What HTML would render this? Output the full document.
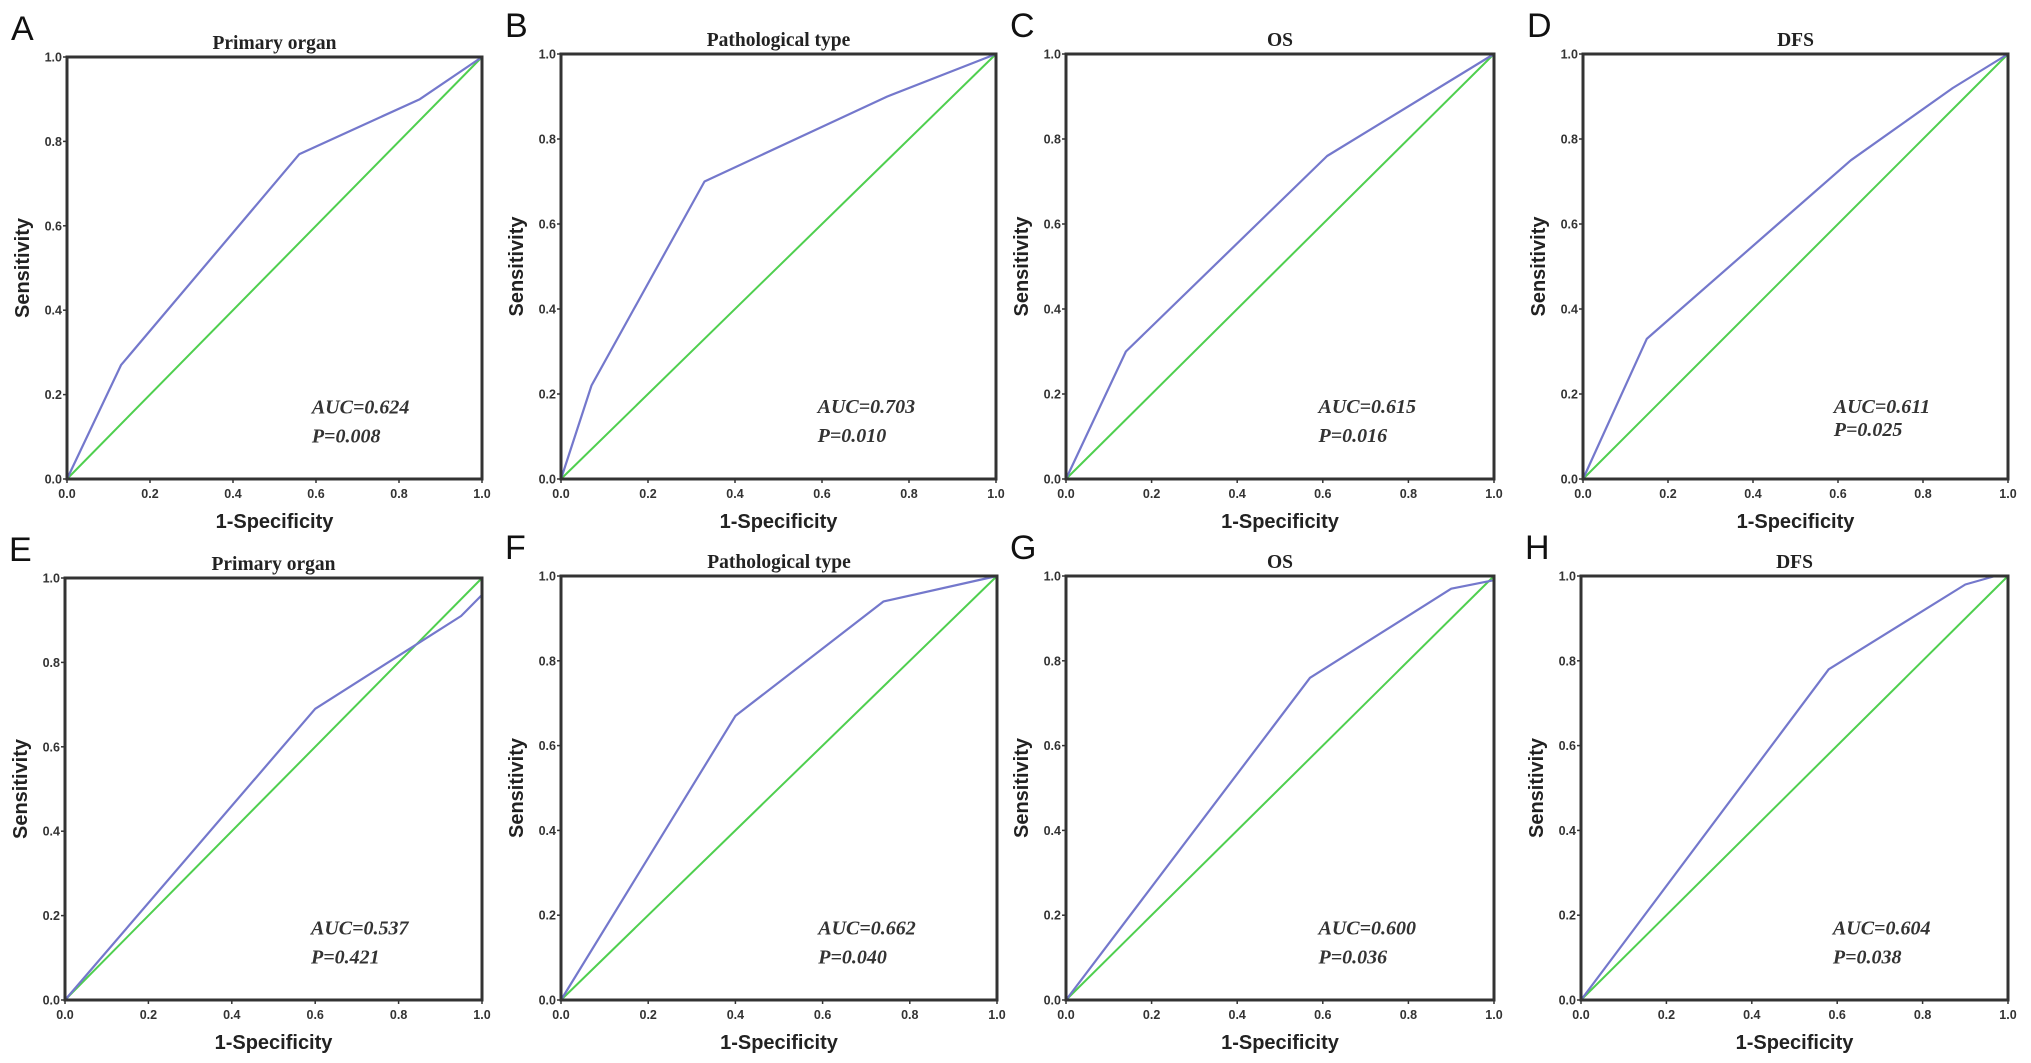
<!DOCTYPE html>
<html><head><meta charset="utf-8"><style>
html,body{margin:0;padding:0;background:#fff;}
svg{display:block;}
</style></head><body>
<svg id="fig" width="2031" height="1063" viewBox="0 0 2031 1063" xmlns="http://www.w3.org/2000/svg"></svg>
<script>
// Panel data (ROC curve points: false positive rate, sensitivity)
const panelLetters = ["A","B","C","D","E","F","G","H"];
const panelTitles = ["Primary organ","Pathological type","OS","DFS","Primary organ","Pathological type","OS","DFS"];
const aucValues = ["0.624","0.703","0.615","0.611","0.537","0.662","0.600","0.604"];
const pValues = ["0.008","0.010","0.016","0.025","0.421","0.040","0.036","0.038"];
const fprA = [0,0.13,0.56,0.85,1]; const tprA = [0,0.27,0.77,0.90,1];
const fprB = [0,0.07,0.33,0.75,1]; const tprB = [0,0.22,0.70,0.90,1];
const fprC = [0,0.14,0.61,1];      const tprC = [0,0.30,0.76,1];
const fprD = [0,0.15,0.63,0.87,1]; const tprD = [0,0.33,0.75,0.92,1];
const fprE = [0,0.60,0.95,1];      const tprE = [0,0.69,0.91,0.96];
const fprF = [0,0.40,0.74,1];      const tprF = [0,0.67,0.94,1];
const fprG = [0,0.57,0.90,1];      const tprG = [0,0.76,0.97,0.99];
const fprH = [0,0.58,0.90,0.97,1]; const tprH = [0,0.78,0.98,1,1];
const tickValues = [0,0.2,0.4,0.6,0.8,1.0];
const tickLabels = ["0.0","0.2","0.4","0.6","0.8","1.0"];

const fprs=[fprA,fprB,fprC,fprD,fprE,fprF,fprG,fprH];
const tprs=[tprA,tprB,tprC,tprD,tprE,tprF,tprG,tprH];
const boxes=[[67,57,482,479],[561,54,996,479],[1066,54,1494,479],[1583,54,2008,479],
             [65,578,482,1000],[561,576,997,1000],[1066,576,1494,1000],[1581,576,2008,1000]];
const NS="http://www.w3.org/2000/svg";
const svg=document.getElementById('fig');
function mk(tag,attrs,parent){const e=document.createElementNS(NS,tag);for(const k in attrs)e.setAttribute(k,attrs[k]);(parent||svg).appendChild(e);return e;}

for(let i=0;i<8;i++){
  const [l,t,r,b]=boxes[i];
  const xs=v=>l+v*(r-l), ys=v=>b-v*(b-t);
  const g=mk('g',{});
  
  
  let e=mk('text',{x:l-56,y:t-17,'font-family':'Liberation Sans, sans-serif','font-size':34,fill:'#111'},g);
  e.textContent=panelLetters[i];
  
  
  e=mk('text',{x:(l+r)/2,y:t-8,'text-anchor':'middle','font-family':'Liberation Serif, serif','font-weight':'bold','font-size':19.5,fill:'#222'},g);
  e.textContent=panelTitles[i];
  
  
  e=mk('line',{x1:xs(0),y1:ys(0),x2:xs(1),y2:ys(1),stroke:'#4fcf4f','stroke-width':2},g);
  
  
  const pts=fprs[i].map((v,k)=>xs(v).toFixed(1)+','+ys(tprs[i][k]).toFixed(1)).join(' ');
  e=mk('polyline',{points:pts,fill:'none',stroke:'#7478cc','stroke-width':2.2,'stroke-linejoin':'round'},g);
  
  
  e=mk('rect',{x:l,y:t,width:r-l,height:b-t,fill:'none',stroke:'#333','stroke-width':3},g);
  
  
  tickValues.forEach((v,k)=>{
    mk('line',{x1:xs(v),y1:b,x2:xs(v),y2:b+4,stroke:'#333','stroke-width':1.5},g);
    mk('line',{x1:l-4,y1:ys(v),x2:l,y2:ys(v),stroke:'#333','stroke-width':1.5},g);
    let tx=mk('text',{x:xs(v),y:b+19,'text-anchor':'middle','font-family':'Liberation Sans, sans-serif','font-weight':'bold','font-size':12.5,fill:'#333'},g);
    tx.textContent=tickLabels[k];
    
    
    let ty=mk('text',{x:l-5,y:ys(v)+4.5,'text-anchor':'end','font-family':'Liberation Sans, sans-serif','font-weight':'bold','font-size':12.5,fill:'#333'},g);
    ty.textContent=tickLabels[k];
    
    
  });
  e=mk('text',{x:(l+r)/2,y:b+49,'text-anchor':'middle','font-family':'Liberation Sans, sans-serif','font-weight':'bold','font-size':20,fill:'#222'},g);
  e.textContent='1-Specificity';
  
  
  e=mk('text',{x:0,y:0,transform:'translate('+(l-38)+','+((t+b)/2)+') rotate(-90)','text-anchor':'middle','font-family':'Liberation Sans, sans-serif','font-weight':'bold','font-size':20,fill:'#222'},g);
  e.textContent='Sensitivity';
  
  
  const gap = (i===3)?23:29;
  e=mk('text',{x:xs(0.59),y:ys(0.155),'font-family':'Liberation Serif, serif','font-weight':'bold','font-style':'italic','font-size':20,fill:'#333'},g);
  e.textContent='AUC='+aucValues[i];
  
  
  e=mk('text',{x:xs(0.59),y:ys(0.155)+gap,'font-family':'Liberation Serif, serif','font-weight':'bold','font-style':'italic','font-size':20,fill:'#333'},g);
  e.textContent='P='+pValues[i];
  
  
}
</script>
</body></html>
